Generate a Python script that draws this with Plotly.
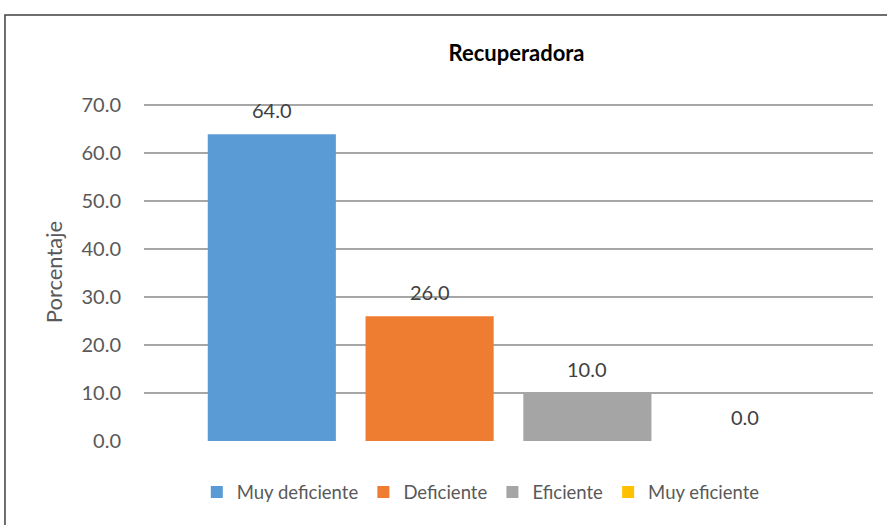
import plotly.graph_objects as go

categories = ["Muy deficiente", "Deficiente", "Eficiente", "Muy eficiente"]
values = [64.0, 26.0, 10.0, 0.0]
colors = ["#5B9BD5", "#EE7D31", "#A5A5A5", "#FFC000"]
y_ticks = [0, 10, 20, 30, 40, 50, 60, 70]
y_tick_labels = [f"{v:.1f}" for v in y_ticks]

FONT = "Lato, 'Open Sans', sans-serif"
TXT = "#595959"

fig = go.Figure()
for cat, val, col in zip(categories, values, colors):
    fig.add_trace(go.Bar(
        name=cat, x=[cat], y=[val],
        marker=dict(color=col, line=dict(width=0)),
        hoverinfo="name+y",
    ))
    fig.add_annotation(
        x=cat, y=val, xref="x", yref="y",
        text=f"{val:.1f}", showarrow=False,
        yanchor="middle", yshift=24.5,
        font=dict(family=FONT, size=20, color="#404040"),
    )

# chart-area border (Excel style), extends beyond the window on the right/bottom
fig.add_shape(type="rect", xref="paper", yref="paper",
              x0=-0.1907, x1=1.03, y0=-0.28, y1=1.2605,
              line=dict(color="#404040", width=1.5), layer="below")

fig.update_layout(
    width=887, height=525,
    margin=dict(l=144, r=14, t=103, b=84),
    paper_bgcolor="white", plot_bgcolor="white",
    barmode="overlay", bargap=0.188,
    title=dict(text="<b>Recuperadora</b>", x=0.511, xref="paper", xanchor="center",
               y=1 - 53 / 525, yref="container", yanchor="middle",
               font=dict(family=FONT, size=22, color="#000000")),
    font=dict(family=FONT, color=TXT),
    showlegend=True,
    legend=dict(orientation="h", x=0.462, xanchor="center", y=-0.152, yanchor="middle",
                font=dict(family=FONT, size=18.5, color=TXT),
                itemwidth=30, traceorder="normal"),
    xaxis=dict(type="category", categoryorder="array", categoryarray=categories,
               range=[-0.81, 3.81], showticklabels=False, showgrid=False,
               zeroline=False, showline=False, fixedrange=True),
    yaxis=dict(range=[0, 70.5], tickvals=y_ticks, ticktext=y_tick_labels,
               showgrid=True, gridcolor="#A6A6A6", gridwidth=1.5,
               zeroline=False, showline=False, ticks="", ticklabelstandoff=22,
               tickfont=dict(family=FONT, size=20, color=TXT),
               title=dict(text="Porcentaje", font=dict(family=FONT, size=22, color=TXT),
                          standoff=12)),
)

fig.write_html("out.html", config={"displayModeBar": False},
               post_script="document.body.style.margin='0';")
